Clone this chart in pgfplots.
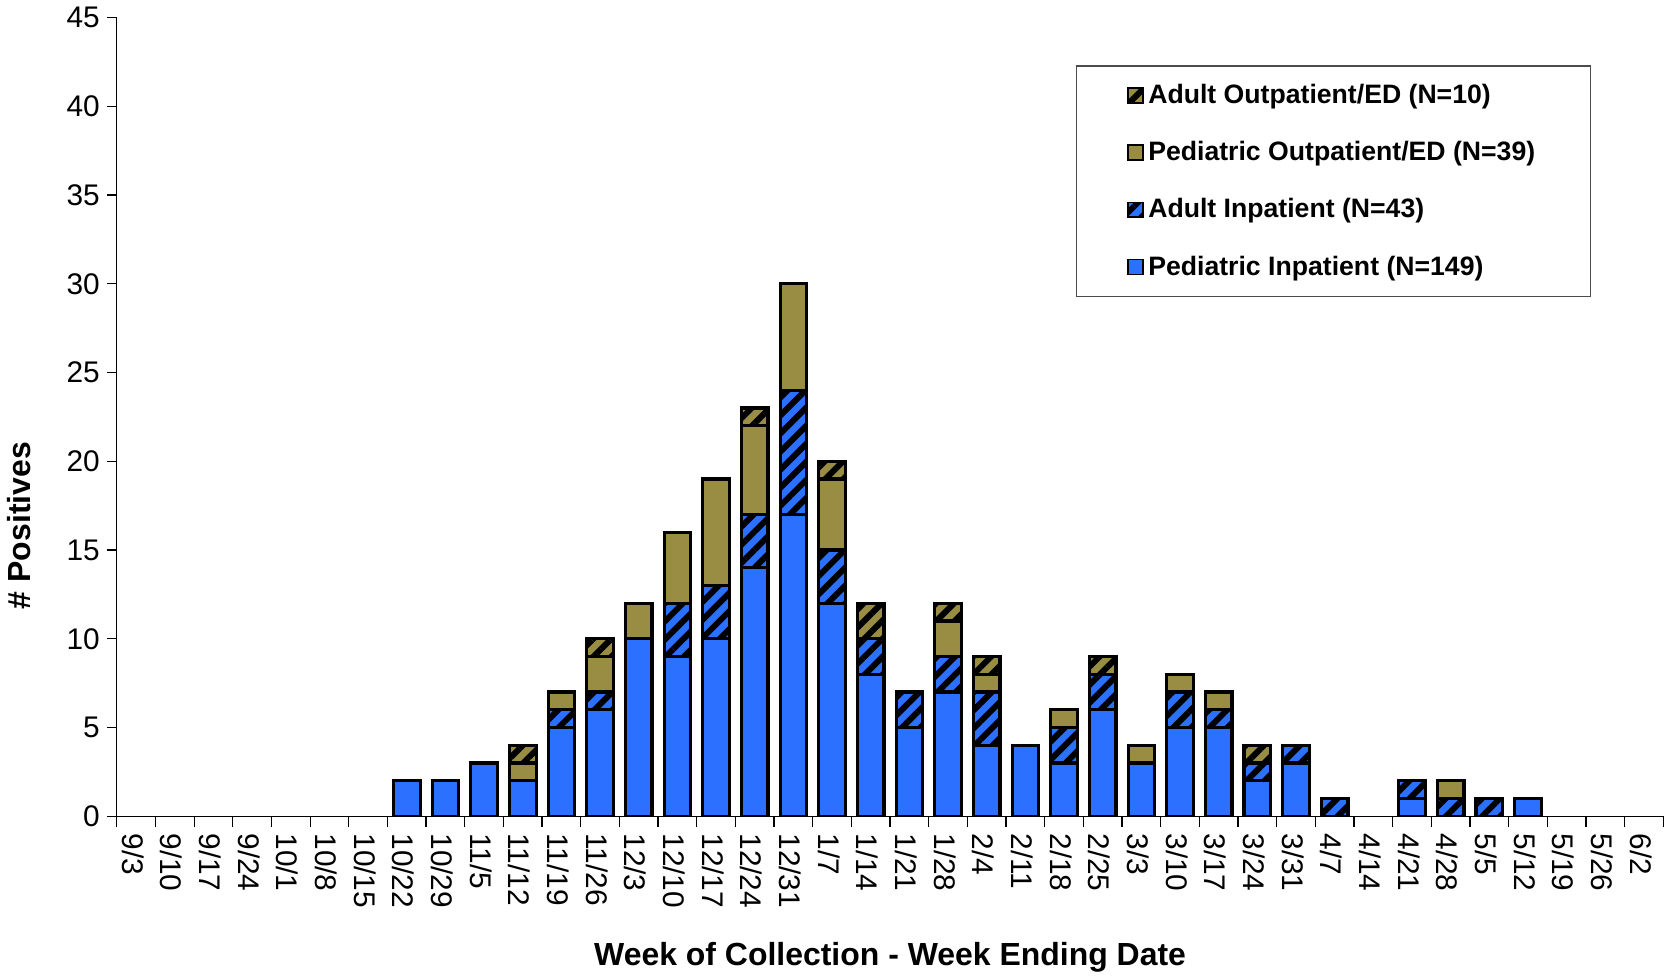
\documentclass[border=0pt]{standalone}
\usepackage{pgfplots}
\pgfplotsset{compat=1.18}
\usepackage{pgfplotstable}
\usepackage{fontspec}
\setmainfont{Liberation Sans}
\usetikzlibrary{patterns.meta}

\definecolor{pblue}{RGB}{44,112,255}
\definecolor{polive}{RGB}{153,141,68}

% x = week index (0 = 9/3 ... 39 = 6/2); weeks with no positives left out
\pgfplotstableread{
x  pi ai po ao
7  2  0  0  0
8  2  0  0  0
9  3  0  0  0
10 2  0  1  1
11 5  1  1  0
12 6  1  2  1
13 10 0  2  0
14 9  3  4  0
15 10 3  6  0
16 14 3  5  1
17 17 7  6  0
18 12 3  4  1
19 8  2  0  2
20 5  2  0  0
21 7  2  2  1
22 4  3  1  1
23 4  0  0  0
24 3  2  1  0
25 6  2  0  1
26 3  0  1  0
27 5  2  1  0
28 5  1  1  0
29 2  1  0  1
30 3  1  0  0
31 0  1  0  0
33 1  1  0  0
34 0  1  1  0
35 0  1  0  0
36 1  0  0  0
}\weeks

\begin{document}
\begin{tikzpicture}
\begin{axis}[
    scale only axis,
    width=726pt,
    height=375pt,
    ybar stacked,
    bar width=12.5pt,
    xmin=-0.5, xmax=39.5,
    ymin=0, ymax=45,
    ytick={0,5,...,45},
    xtick={0,...,39},
    xticklabels={9/3,9/10,9/17,9/24,10/1,10/8,10/15,10/22,10/29,11/5,11/12,11/19,11/26,12/3,12/10,12/17,12/24,12/31,1/7,1/14,1/21,1/28,2/4,2/11,2/18,2/25,3/3,3/10,3/17,3/24,3/31,4/7,4/14,4/21,4/28,5/5,5/12,5/19,5/26,6/2},
    minor xtick={-0.5,0.5,...,39.5},
    major x tick style={draw=none},
    tick align=outside,
    major tick length=4.5pt,
    minor tick length=5pt,
    axis x line*=bottom,
    axis y line*=left,
    axis line style={line width=0.6pt},
    tick style={line width=0.6pt, black},
    ticklabel style={font=\fontsize{14}{16}\selectfont},
    /pgf/number format/assume math mode=true,
    xticklabel style={rotate=-90, anchor=west, yshift=-1.5pt},
    xlabel={Week of Collection - Week Ending Date},
    ylabel={\# Positives},
    every axis x label/.style={at={([yshift=-66pt]axis description cs:0.5,0)}, anchor=center, font=\fontsize{15}{18}\selectfont\bfseries},
    every axis y label/.style={at={([xshift=-46pt]axis description cs:0,0.364)}, rotate=90, anchor=center, font=\fontsize{15}{18}\selectfont\bfseries},
    every axis plot/.append style={draw=black, line width=1.5pt},
    reverse legend,
    legend cell align=left,
    legend style={at={(0.62,0.94)}, anchor=north west, draw=black!70, line width=0.6pt,
        inner xsep=24pt, inner ysep=6.5pt, row sep=12.3pt,
        font=\fontsize{12.5}{15}\selectfont\bfseries},
    legend image code/.code={\draw[#1, line width=0.8pt] (0pt,-3.5pt) rectangle (7pt,3.5pt);},
]
\addplot[fill=pblue] table[x=x, y=pi] {\weeks};
\addplot[fill=pblue, postaction={pattern={Lines[angle=45,distance=6pt,line width=2.8pt]}, pattern color=black}] table[x=x, y=ai] {\weeks};
\addplot[fill=polive] table[x=x, y=po] {\weeks};
\addplot[fill=polive, postaction={pattern={Lines[angle=45,distance=6pt,line width=2.8pt]}, pattern color=black}] table[x=x, y=ao] {\weeks};
\legend{Pediatric Inpatient (N=149),Adult Inpatient (N=43),Pediatric Outpatient/ED (N=39),Adult Outpatient/ED (N=10)}
\end{axis}
\end{tikzpicture}
\end{document}
